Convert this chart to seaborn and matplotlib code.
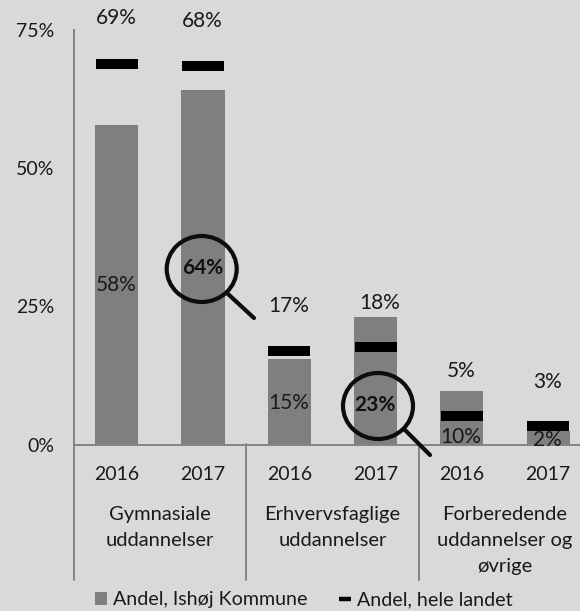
import matplotlib
matplotlib.use("Agg")
import matplotlib.pyplot as plt
import seaborn as sns
import pandas as pd
from matplotlib.lines import Line2D
from matplotlib.patches import Ellipse, Patch

years = ["2016", "2017", "2016", "2017", "2016", "2017"]
groups = ["Gymnasiale\nuddannelser", "Erhvervsfaglige\nuddannelser", "Forberedende\nuddannelser og\nøvrige"]
local_values = [57.8, 64.1, 15.5, 23.1, 9.7, 2.5]
national_values = [68.9, 68.4, 17.0, 17.6, 5.1, 3.4]
local_labels = ["58%", "64%", "15%", "23%", "10%", "2%"]
national_labels = ["69%", "68%", "17%", "18%", "5%", "3%"]
yticks = [0, 25, 50, 75]
ytick_labels = ["0%", "25%", "50%", "75%"]
legend_labels = ["Andel, Ishøj Kommune", "Andel, hele landet"]

BG = "#D9D9D9"
BAR = "#7F7F7F"
AX = "#848484"
TXT = "#1A1A1A"
W, H = 580, 611

sns.set_theme(style="white")
plt.rcParams["font.family"] = ["Lato", "DejaVu Sans"]
plt.rcParams["font.size"] = 14

fig = plt.figure(figsize=(W / 100, H / 100), dpi=100, facecolor=BG)
ax = fig.add_axes([73.5 / W, 1 - 444.5 / H, (W - 73.5) / W, (444.5 - 30) / H], facecolor=BG)

ids = list(range(len(years)))
df = pd.DataFrame({"id": ids, "local": local_values, "national": national_values})
sns.barplot(data=df, x="id", y="local", color=BAR, saturation=1, width=0.5, ax=ax, zorder=2,
            edgecolor="none", linewidth=0)
sns.scatterplot(data=df, x="id", y="national", marker="_", s=900, color="black",
                linewidth=7.2, ax=ax, zorder=3, legend=False)

ax.set_xlim(-0.5, (W - 116.65) / 86.3)
ax.set_ylim(0, 75)
ax.set_xlabel("")
ax.set_ylabel("")
ax.set_xticks(ids)
ax.set_xticklabels(years, fontsize=14, color=TXT)
ax.set_yticks(yticks)
ax.set_yticklabels(ytick_labels, fontsize=14, color=TXT)
ax.tick_params(axis="x", length=0, pad=15.5)
ax.tick_params(axis="y", length=0, pad=14)
for s in ["top", "right"]:
    ax.spines[s].set_visible(False)
for s in ["left", "bottom"]:
    ax.spines[s].set_color(AX)
    ax.spines[s].set_linewidth(1.4)


def px(x, y):
    return x / W, 1 - y / H


nat_pos = [(116.5, 18), (202.5, 21), (289, 306), (380, 303), (461, 371), (547.5, 382)]
loc_pos = [(116.5, 285), (202.5, 268), (289, 403), (375, 405), (461, 437), (547.5, 440)]
for lab, (x, y) in zip(national_labels, nat_pos):
    fig.text(*px(x, y), lab, ha="center", va="center", fontsize=15, color=TXT, zorder=6)
for lab, (x, y) in zip(local_labels, loc_pos):
    bold = lab in ("64%", "23%")
    fig.text(*px(x, y), lab, ha="center", va="center", fontsize=15, color="#111111" if bold else TXT,
             fontweight="bold" if bold else "normal", zorder=6)

# group labels and separators below the axis
for x in (73.5, 246, 418.5):
    fig.add_artist(Line2D([x / W, x / W], [1 - 444 / H, 1 - 580 / H], color=AX, lw=1.4))
group_x = [160, 332.5, 505]
for gx, g in zip(group_x, groups):
    fig.text(gx / W, 1 - 506 / H, g, ha="center", va="top", fontsize=14.5, color=TXT, linespacing=1.66)

# magnifier annotations
for (cx, cy, rx, ry), (x0, y0, x1, y1) in [
    ((201.7, 269, 35, 33), (228, 294, 254, 318)),
    ((378, 406, 35, 33), (405, 430, 430, 455)),
]:
    fig.add_artist(Ellipse(px(cx, cy), 2 * rx / W, 2 * ry / H, transform=fig.transFigure,
                           fill=False, ec="#0D0D0D", lw=3, zorder=7))
    fig.add_artist(Line2D([x0 / W, x1 / W], [1 - y0 / H, 1 - y1 / H], color="#0D0D0D", lw=3, zorder=7))

handles = [Patch(facecolor=BAR, edgecolor="none"), Line2D([], [], color="black", lw=3.2, solid_capstyle="butt")]
fig.legend(handles, legend_labels, loc="center left", bbox_to_anchor=(95 / W, 1 - 600 / H), ncol=2,
           frameon=False, fontsize=14.1, labelcolor=TXT, handlelength=0.62, handleheight=0.62, handletextpad=0.3,
           columnspacing=1.6, borderpad=0, borderaxespad=0)

fig.savefig("out.png", dpi=100, facecolor=BG)
